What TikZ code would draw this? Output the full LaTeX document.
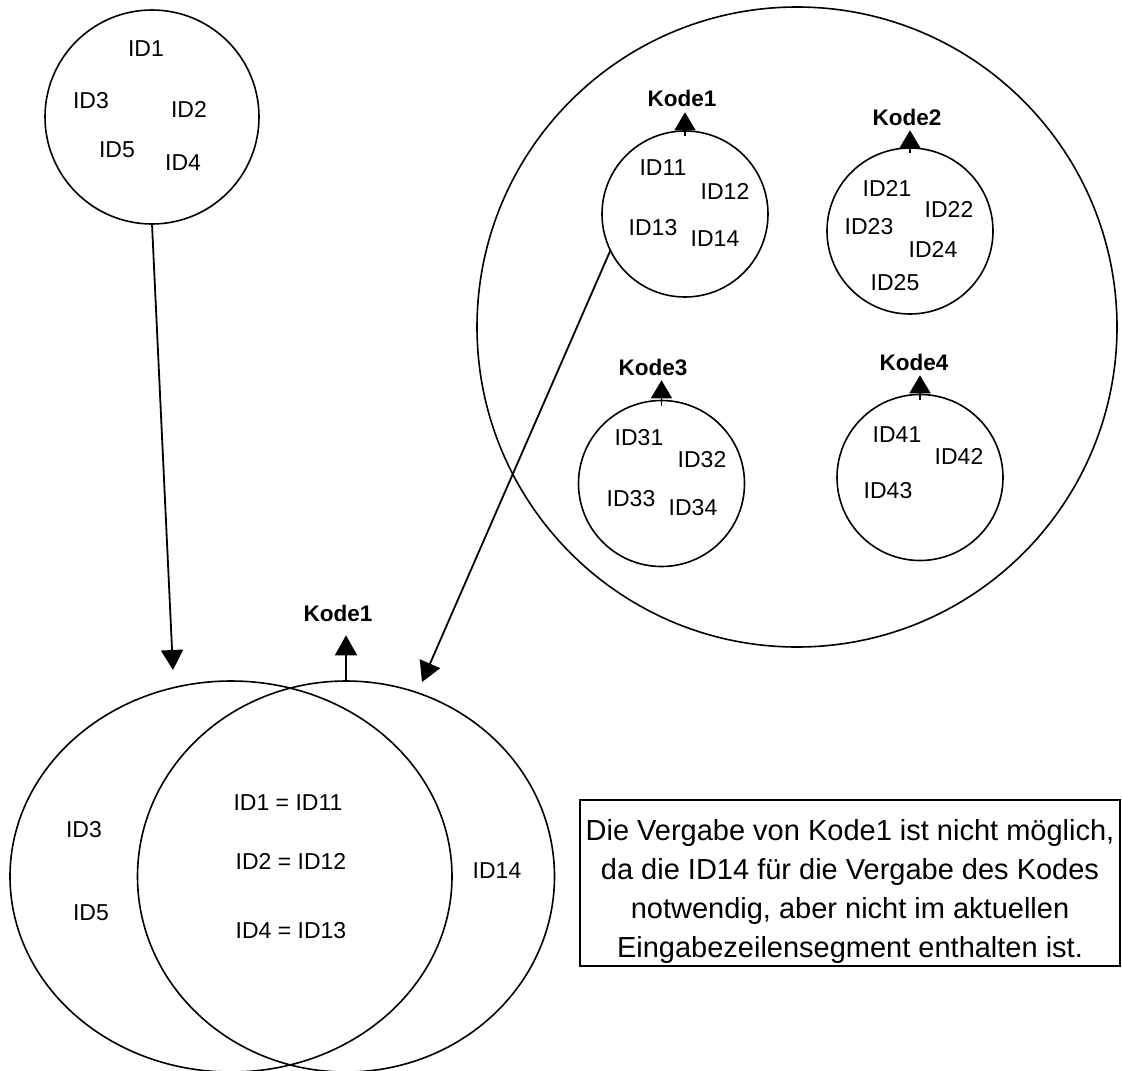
\documentclass[tikz,border=0pt]{standalone}
\usepackage{fontspec}
\setmainfont{Liberation Sans}
\usetikzlibrary{arrows.meta,shapes.geometric}
\begin{document}
\begin{tikzpicture}[x=1pt,y=-1pt,
  every node/.style={inner sep=0pt, outer sep=0pt},
  ring/.style={circle, draw, line width=1.6pt, minimum size=#1},
  oval/.style={ellipse, draw, line width=1.6pt},
  idtxt/.style={font=\fontsize{23pt}{27pt}\selectfont},
  kodetxt/.style={font=\bfseries\fontsize{22.5pt}{27pt}\selectfont},
  arr/.style={line width=1.8pt, -{Triangle[width=22pt,length=20pt]}},
  karr/.style={line width=1.6pt, -{Triangle[width=21pt,length=18pt]}},
  notebox/.style={draw, line width=1.6pt, align=center,
    font=\fontsize{29pt}{39pt}\selectfont, minimum width=540pt, minimum height=166pt},
]
\useasboundingbox (0,0) rectangle (1122,1071);
\clip (0,0) rectangle (1122,1071);

% input segment
\node[ring=214pt] (grpA) at (152,117) {};
\node[idtxt] (a1) at (146,49)  {ID1};
\node[idtxt] (a3) at (91,101)  {ID3};
\node[idtxt] (a2) at (189,109) {ID2};
\node[idtxt] (a5) at (117,150) {ID5};
\node[idtxt] (a4) at (183,163) {ID4};

% code catalogue
\node[ring=640pt] (cat) at (797,327) {};

\node[ring=166pt] (k1) at (685,214) {};
\node[kodetxt] (k1lbl) at (682,98) {Kode1};
\node[idtxt] (id11) at (663,168) {ID11};
\node[idtxt] (id12) at (725,191) {ID12};
\node[idtxt] (id13) at (653,228) {ID13};
\node[idtxt] (id14) at (715,239) {ID14};

\node[ring=166pt] (k2) at (910,231) {};
\node[kodetxt] (k2lbl) at (907,117) {Kode2};
\node[idtxt] (id21) at (887,188) {ID21};
\node[idtxt] (id22) at (949,209) {ID22};
\node[idtxt] (id23) at (869,227) {ID23};
\node[idtxt] (id24) at (933,249) {ID24};
\node[idtxt] (id25) at (895,283) {ID25};

\node[ring=166pt] (k3) at (661.5,483.5) {};
\node[kodetxt] (k3lbl) at (653,367) {Kode3};
\node[idtxt] (id31) at (639,438) {ID31};
\node[idtxt] (id32) at (702,460) {ID32};
\node[idtxt] (id33) at (631,499) {ID33};
\node[idtxt] (id34) at (693,508) {ID34};

\node[ring=166pt] (k4) at (920,477.5) {};
\node[kodetxt] (k4lbl) at (914,362) {Kode4};
\node[idtxt] (id41) at (897,435) {ID41};
\node[idtxt] (id42) at (959,456) {ID42};
\node[idtxt] (id43) at (888,491) {ID43};

\draw[karr, shorten >=6pt] ([yshift=-5pt]k1.north) -- (k1.north |- k1lbl.south);
\draw[karr, shorten >=5pt] ([yshift=-5pt]k2.north) -- (k2.north |- k2lbl.south);
\draw[karr, shorten >=5pt] ([yshift=-5pt]k3.north) -- (k3.north |- k3lbl.south);
\draw[karr, shorten >=5pt] ([yshift=-5pt]k4.north) -- (k4.north |- k4lbl.south);

% comparison of segment and code
\node[oval, minimum width=442pt, minimum height=391pt] (setL) at (231,876.5) {};
\node[oval, minimum width=417pt, minimum height=391pt] (setR) at (346,876.5) {};
\node[kodetxt] (kv) at (338,613) {Kode1};
\draw[arr, shorten >=14pt] (setR.north) -- (setR.north |- kv.south);

\node[idtxt] (m1) at (288,803) {ID1 = ID11};
\node[idtxt] (m2) at (291,861) {ID2 = ID12};
\node[idtxt] (m4) at (291,931) {ID4 = ID13};
\node[idtxt] (l3) at (84,830)  {ID3};
\node[idtxt] (l5) at (91,913)  {ID5};
\node[idtxt] (r14) at (497,871) {ID14};

\coordinate (tipA) at (173,670);
\coordinate (tipB) at (422,682);
\draw[arr] (grpA.south) -- (tipA);
\draw[arr] (k1.206) -- (tipB);

\node[notebox, anchor=north west] (note) at (580,800)
  {\rule{0pt}{37pt}Die Vergabe von Kode1 ist nicht möglich,\\
   da die ID14 für die Vergabe des Kodes\\
   notwendig, aber nicht im aktuellen\\
   Eingabezeilensegment enthalten ist.};
\end{tikzpicture}
\end{document}
